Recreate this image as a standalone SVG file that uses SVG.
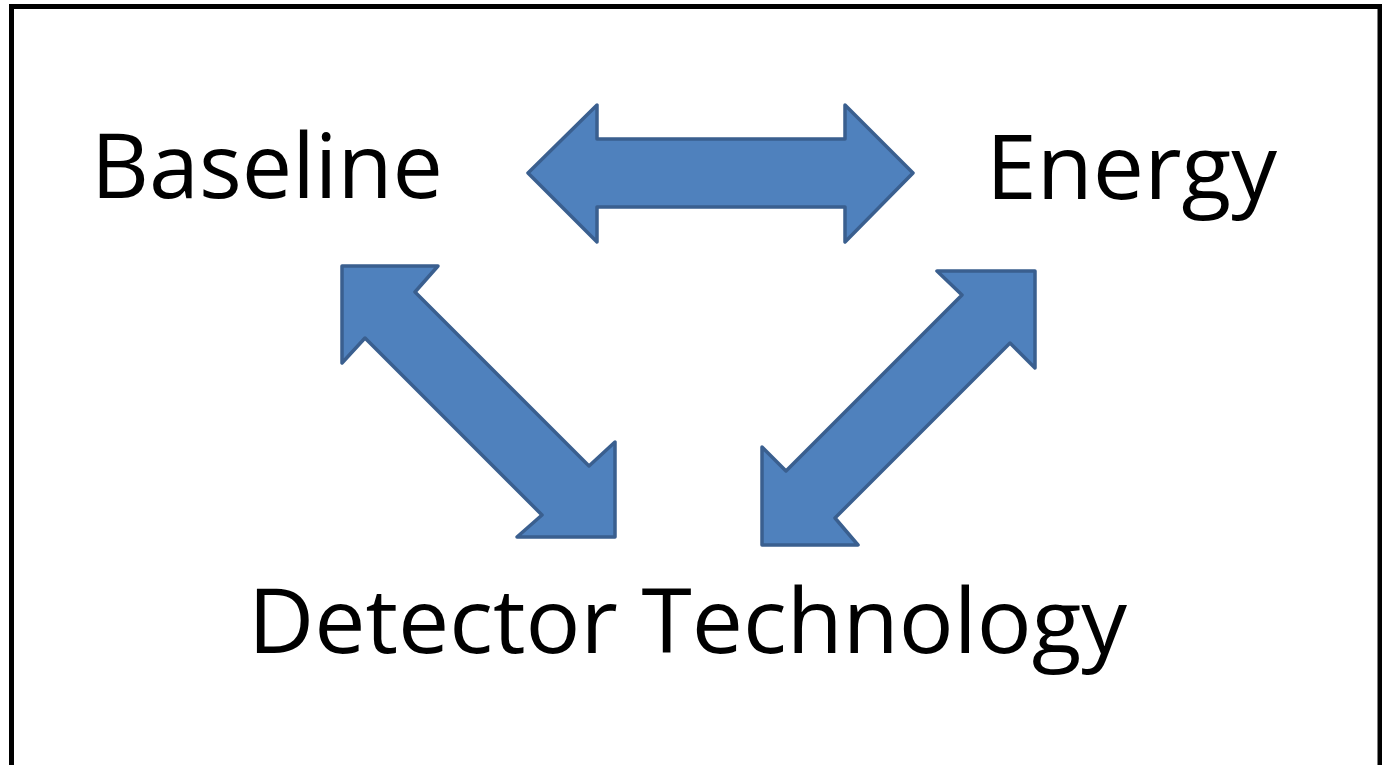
<svg xmlns="http://www.w3.org/2000/svg" width="1382" height="765" viewBox="0 0 1382 765">
<style>
.lbl{font-family:"Open Sans","Liberation Sans",sans-serif;font-size:90px;fill:#000}
.arr{fill:#4f81bd;stroke:#3a5f8f;stroke-width:3.5;stroke-linejoin:round}
</style>
<rect x="0" y="0" width="1382" height="765" fill="#fff"/>
<path d="M11.5,770 V6.5 H1380 V770" fill="none" stroke="#000" stroke-width="5"/>
<g id="baseline"><text class="lbl" x="91" y="198" textLength="352" lengthAdjust="spacingAndGlyphs">Baseline</text></g>
<g id="energy"><text class="lbl" x="986" y="199" textLength="291" lengthAdjust="spacingAndGlyphs">Energy</text></g>
<g id="detector"><text class="lbl" x="248" y="653" textLength="879" lengthAdjust="spacingAndGlyphs">Detector Technology</text></g>
<g id="connectors">
<path class="arr" d="M528,173 L597,105 L597,139 L845,139 L845,105 L913,173 L845,242 L845,207 L597,207 L597,242 Z"/>
<path class="arr" d="M342,266 L438,266 L415,292 L589,466 L615,442 L615,537 L517,537 L542,515 L365,338 L342,363 Z"/>
<path class="arr" d="M1035,271 L1035,368 L1010,343 L835,518 L858,545 L762,545 L762,447 L786,471 L962,295 L937,271 Z"/>
</g>
</svg>
